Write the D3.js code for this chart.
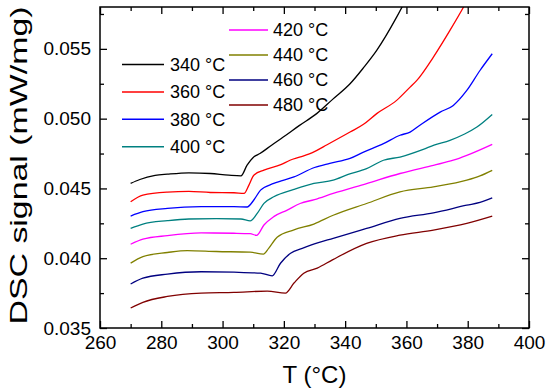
<!DOCTYPE html>
<html>
<head>
<meta charset="utf-8">
<script src="https://cdn.jsdelivr.net/npm/d3@7"></script>
<style>
body { margin: 0; background: #fff; }
text { font-family: Arial, "Liberation Sans", sans-serif; }
</style>
</head>
<body>
<div id="chart"></div>
<script>
// curves: [T (°C), DSC signal (mW/mg)]
const s340 = [[270,0.04536],[273,0.04564],[278,0.04593],[282,0.04602],[289,0.04612],[296,0.04607],[302,0.04595],[306,0.0459],[308,0.04667],[310,0.04722],[312.2,0.0475],[316,0.0481],[319.8,0.04868],[325,0.0495],[330.7,0.05036],[336,0.0514],[341.6,0.0525],[346,0.05365],[350.3,0.05489],[356.8,0.05727],[360,0.0586],[366,0.0612],[372,0.0642],[380,0.0685],[388,0.073]];
const s360 = [[270,0.04405],[274,0.04452],[282,0.04474],[289,0.04479],[296,0.04471],[303.7,0.04469],[307,0.04464],[308.6,0.04524],[310.2,0.04595],[313.5,0.04631],[319,0.0467],[322,0.04702],[325.4,0.04726],[329.8,0.04762],[333,0.048],[341.6,0.04904],[346,0.0496],[350.3,0.05036],[356.8,0.05131],[361.2,0.05226],[363.4,0.05274],[368.8,0.05441],[374.2,0.05632],[378.6,0.05798],[383,0.0598],[388,0.0618]];
const s380 = [[270,0.04302],[274,0.04333],[282,0.04357],[293,0.04369],[303.7,0.04369],[308,0.04367],[310.2,0.04417],[312.4,0.04488],[316.7,0.04536],[323.3,0.04583],[330,0.0465],[335,0.0468],[341.6,0.04715],[346,0.0476],[352.5,0.04821],[357.9,0.04881],[361.2,0.04904],[364.4,0.04953],[371,0.05047],[375.3,0.05095],[379.7,0.05202],[384,0.05345],[388,0.05465]];
const s400 = [[270,0.04214],[274,0.04245],[282,0.04269],[289,0.04281],[298,0.04283],[306,0.04281],[309,0.04267],[311.3,0.04321],[313.5,0.04393],[316.7,0.0444],[323.3,0.04493],[329.8,0.04536],[336.1,0.04559],[341,0.046],[347,0.04642],[352.5,0.04702],[357.9,0.04725],[365.5,0.0478],[369,0.0481],[374.2,0.04845],[379,0.0489],[383,0.0494],[388,0.0503]];
const s420 = [[270,0.041],[274,0.04136],[282,0.04162],[293,0.04181],[303.7,0.04179],[309,0.04176],[311.1,0.04164],[313.5,0.04238],[316.7,0.04298],[321.1,0.04345],[325.3,0.04392],[330,0.0442],[336.1,0.04464],[347,0.04535],[357.9,0.04607],[368.8,0.04666],[375.3,0.04702],[379.7,0.04737],[388,0.04816]];
const s440 = [[270,0.03965],[274,0.04012],[282,0.04041],[288.5,0.04055],[298,0.04048],[309,0.04043],[313.3,0.04029],[315.1,0.04072],[317.8,0.0415],[323.3,0.04203],[329.8,0.04245],[336.1,0.04308],[347,0.04392],[357.9,0.04475],[368.8,0.04511],[379.7,0.04559],[384,0.0459],[388,0.0463]];
const s460 = [[270,0.03815],[274,0.03857],[282,0.03886],[293,0.03903],[303.7,0.039],[312.4,0.03893],[316.2,0.03874],[318.9,0.03964],[322.2,0.04036],[326,0.0407],[331,0.0411],[336.1,0.04142],[347,0.04213],[357.9,0.04285],[368.8,0.04325],[379.7,0.0438],[384,0.044],[388,0.04432]];
const s480 = [[270,0.03643],[274,0.03684],[282,0.03726],[293,0.0375],[303.7,0.03755],[314.6,0.03764],[320.5,0.0375],[323.3,0.03822],[326.5,0.03893],[330.9,0.03929],[336,0.0399],[347,0.04106],[357.9,0.04165],[368.8,0.04201],[379.7,0.04249],[388,0.04301]];

const seriesData = [s340, s360, s380, s400, s420, s440, s460, s480];
const seriesNames = ["340 °C", "360 °C", "380 °C", "400 °C", "420 °C", "440 °C", "460 °C", "480 °C"];
const colors = ["#000000", "#ff0000", "#0000ff", "#008080", "#ff00ff", "#808000", "#000080", "#800000"];

const xTicks = [260, 280, 300, 320, 340, 360, 380, 400];
const xMinor = [270, 290, 310, 330, 350, 370, 390];
const yTicks = [0.035, 0.040, 0.045, 0.050, 0.055];
const yMinor = [0.0375, 0.0425, 0.0475, 0.0525, 0.0575];

let margin = {top: 7, right: 21, bottom: 64, left: 100};
let width = 550 - margin.left - margin.right,
    height = 392 - margin.top - margin.bottom;

let svg = d3.select("#chart")
    .append("svg")
    .attr("width", 550)
    .attr("height", 392)
    .append("g")
    .attr("transform", `translate(${margin.left}, ${margin.top})`);

let x = d3.scaleLinear().domain([260, 400]).range([0, width]);
let y = d3.scaleLinear().domain([0.035, 0.058]).range([height, 0]);

svg.append("clipPath").attr("id", "plot-clip")
    .append("rect").attr("width", width).attr("height", height);

// curves
let line = d3.line()
    .x(d => x(d[0]))
    .y(d => y(d[1]))
    .curve(d3.curveMonotoneX);
svg.append("g")
    .attr("clip-path", "url(#plot-clip)")
    .selectAll("path")
    .data(seriesData)
    .enter()
    .append("path")
    .attr("d", line)
    .attr("fill", "none")
    .attr("stroke", (d, i) => colors[i])
    .attr("stroke-width", 1.3);

// axes, ticks pointing inwards
function styleAxis(g) {
    g.select(".domain").remove();
    g.selectAll("line").attr("stroke", "#000").attr("stroke-width", 1.3);
    g.selectAll("text").attr("font-size", 19).attr("fill", "#000")
        .attr("font-family", "Arial, 'Liberation Sans', sans-serif");
}

svg.append("g").attr("transform", `translate(0, ${height})`)
    .call(d3.axisBottom(x).tickValues(xTicks).tickSizeInner(-7).tickSizeOuter(0).tickPadding(8))
    .call(styleAxis);
svg.append("g").attr("transform", `translate(0, ${height})`)
    .call(d3.axisBottom(x).tickValues(xMinor).tickSizeInner(-4).tickSizeOuter(0).tickFormat(""))
    .call(styleAxis);
svg.append("g")
    .call(d3.axisTop(x).tickValues(xTicks).tickSizeInner(-7).tickSizeOuter(0).tickFormat(""))
    .call(styleAxis);
svg.append("g")
    .call(d3.axisTop(x).tickValues(xMinor).tickSizeInner(-4).tickSizeOuter(0).tickFormat(""))
    .call(styleAxis);

svg.append("g")
    .call(d3.axisLeft(y).tickValues(yTicks).tickSizeInner(-7).tickSizeOuter(0).tickPadding(9).tickFormat(d3.format(".3f")))
    .call(styleAxis);
svg.append("g")
    .call(d3.axisLeft(y).tickValues(yMinor).tickSizeInner(-4).tickSizeOuter(0).tickFormat(""))
    .call(styleAxis);
svg.append("g").attr("transform", `translate(${width}, 0)`)
    .call(d3.axisRight(y).tickValues(yTicks).tickSizeInner(-7).tickSizeOuter(0).tickFormat(""))
    .call(styleAxis);
svg.append("g").attr("transform", `translate(${width}, 0)`)
    .call(d3.axisRight(y).tickValues(yMinor).tickSizeInner(-4).tickSizeOuter(0).tickFormat(""))
    .call(styleAxis);

// frame
svg.append("rect")
    .attr("width", width)
    .attr("height", height)
    .attr("fill", "none")
    .attr("stroke", "#000")
    .attr("stroke-width", 1.5);

// axis titles
svg.append("text")
    .attr("transform", `translate(${-73}, ${height / 2 - 2}) rotate(-90)`)
    .attr("text-anchor", "middle")
    .attr("font-size", 24)
    .attr("textLength", 318)
    .attr("lengthAdjust", "spacingAndGlyphs")
    .text("DSC signal (mW/mg)");

svg.append("text")
    .attr("x", width / 2)
    .attr("y", height + 55)
    .attr("text-anchor", "middle")
    .attr("font-size", 24)
    .text("T (°C)");

// legend, two columns
let legend = svg.append("g").selectAll("g")
    .data(seriesNames)
    .enter()
    .append("g")
    .attr("transform", (d, i) => i < 4
        ? `translate(22, ${57.5 + i * 27.4})`
        : `translate(129, ${23 + (i - 4) * 25})`);

legend.append("line")
    .attr("x1", 0)
    .attr("x2", (d, i) => i < 4 ? 42 : 39)
    .attr("stroke", (d, i) => colors[i])
    .attr("stroke-width", 1.5);

legend.append("text")
    .attr("x", (d, i) => i < 4 ? 48 : 44)
    .attr("dy", "0.35em")
    .attr("font-size", 18)
    .text(d => d);
</script>
</body>
</html>
